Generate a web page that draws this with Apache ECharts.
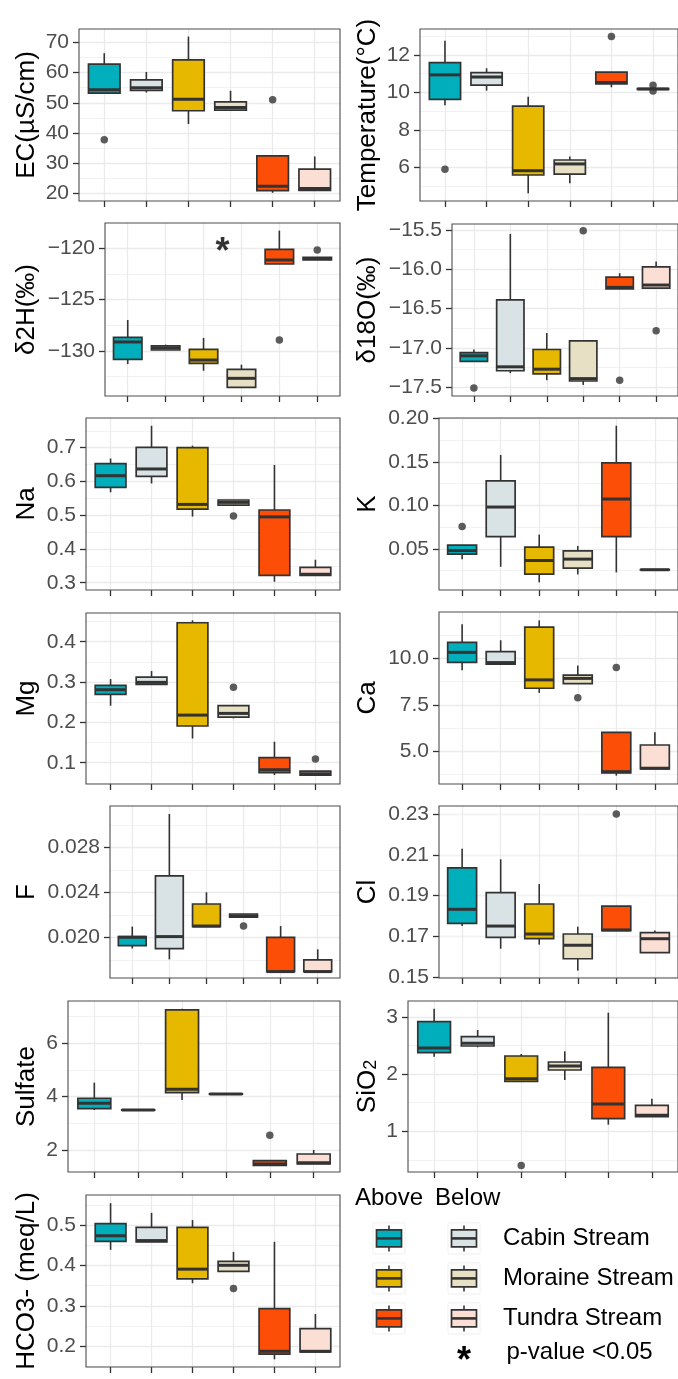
<!DOCTYPE html>
<html><head><meta charset="utf-8">
<script src="https://cdn.jsdelivr.net/npm/echarts@6/dist/echarts.min.js"></script>
<style>html,body{margin:0;padding:0;background:#fff}#c{width:678px;height:1379px}</style>
</head><body><div id="c"></div>
<script>
// ---------------- DATA ----------------
const sites = ['Cabin Above','Cabin Below','Moraine Above','Moraine Below','Tundra Above','Tundra Below'];
// each box: [lower whisker, Q1, median, Q3, upper whisker]
const ecBox = [[53.0,53.2,54.3,62.8,66.4],[53.4,54.1,55.0,57.6,60.2],[43.0,47.4,51.2,64.2,71.9],[47.5,47.6,48.5,50.3,54.0],[20.3,21.0,22.5,32.5,32.5],[21.0,21.1,21.7,28.1,32.3]];
const ecOut = [[0,37.8],[4,51.0]];
const ecTicks = [20,30,40,50,60,70];

const tempBox = [[9.32,9.64,10.94,11.59,12.76],[10.10,10.39,10.82,11.06,11.29],[4.64,5.61,5.84,9.28,9.78],[5.17,5.66,6.20,6.41,6.59],[10.28,10.46,10.53,11.09,11.09],[10.15,10.17,10.19,10.21,10.23]];
const tempOut = [[0,5.91],[4,12.98],[5,10.38],[5,10.08]];
const tempTicks = [6,8,10,12];

const d2hBox = [[-131.27,-130.81,-129.12,-128.67,-126.98],[-129.9,-129.9,-129.7,-129.51,-129.38],[-131.92,-131.2,-130.88,-129.84,-128.73],[-133.54,-133.54,-132.66,-131.79,-131.33],[-121.53,-121.53,-121.14,-120.1,-118.28],[-121.14,-121.14,-121.0,-120.88,-120.88]];
const d2hOut = [[4,-128.93],[5,-120.16]];
const d2hTicks = [-130,-125,-120];
const d2hSignif = [[2.5,-120.43]];

const d18oBox = [[-17.17,-17.17,-17.10,-17.06,-17.02],[-17.32,-17.29,-17.24,-16.39,-15.55],[-17.41,-17.33,-17.27,-17.02,-16.81],[-17.47,-17.42,-17.39,-16.91,-16.91],[-16.25,-16.25,-16.23,-16.10,-16.05],[-16.24,-16.24,-16.20,-15.97,-15.90]];
const d18oOut = [[0,-17.51],[3,-15.51],[4,-17.41],[5,-16.78]];
const d18oTicks = [-17.5,-17.0,-16.5,-16.0,-15.5];

const naBox = [[0.568,0.5825,0.617,0.6526,0.668],[0.594,0.615,0.637,0.701,0.765],[0.496,0.518,0.532,0.700,0.706],[0.530,0.530,0.538,0.545,0.545],[0.303,0.322,0.495,0.5154,0.649],[0.322,0.322,0.325,0.3456,0.368]];
const naOut = [[3,0.4976]];
const naTicks = [0.3,0.4,0.5,0.6,0.7];

const kBox = [[0.0382,0.0439,0.048,0.0542,0.0542],[0.0294,0.0641,0.0981,0.1282,0.158],[0.0115,0.021,0.0366,0.0519,0.0664],[0.0206,0.0279,0.0382,0.0477,0.0534],[0.0229,0.0641,0.1073,0.1489,0.1916],[0.0258,0.0259,0.026,0.0261,0.0262]];
const kOut = [[0,0.0756]];
const kTicks = [0.05,0.10,0.15,0.20];

const mgBox = [[0.2413,0.2694,0.281,0.2917,0.3074],[0.2942,0.2942,0.2992,0.3124,0.3273],[0.160,0.191,0.218,0.447,0.453],[0.210,0.2132,0.2223,0.2413,0.2413],[0.0694,0.0752,0.0826,0.1124,0.152],[0.0694,0.0694,0.0727,0.0793,0.0793]];
const mgOut = [[3,0.2868],[5,0.1091]];
const mgTicks = [0.1,0.2,0.3,0.4];

const caBox = [[9.355,9.785,10.32,10.86,11.83],[9.68,9.68,9.77,10.36,10.97],[8.14,8.39,8.84,11.68,12.04],[8.64,8.64,8.92,9.10,9.61],[3.69,3.835,3.905,6.02,6.02],[4.05,4.05,4.09,5.34,6.02]];
const caOut = [[3,7.885],[4,9.50]];
const caTicks = [5.0,7.5,10.0];

const fBox = [[0.0190,0.01925,0.0200,0.02006,0.02095],[0.01804,0.0190,0.02006,0.02545,0.03096],[0.02095,0.02095,0.0210,0.02296,0.0240],[0.02178,0.02178,0.0219,0.02207,0.02207],[0.01695,0.01695,0.01695,0.0200,0.0210],[0.01695,0.01695,0.01695,0.0180,0.01893]];
const fOut = [[3,0.0210]];
const fTicks = [0.020,0.024,0.028];

const clBox = [[0.1751,0.1764,0.1833,0.2036,0.213],[0.164,0.1696,0.1751,0.1915,0.2078],[0.166,0.1689,0.1712,0.1859,0.1957],[0.1533,0.1591,0.1657,0.1712,0.1748],[0.1729,0.1729,0.1732,0.1849,0.1849],[0.1621,0.1621,0.1689,0.1719,0.1729]];
const clOut = [[4,0.23]];
const clTicks = [0.15,0.17,0.19,0.21,0.23];

const so4Box = [[3.50,3.55,3.75,3.94,4.525],[3.49,3.495,3.50,3.505,3.51],[3.875,4.15,4.275,7.25,7.30],[4.09,4.095,4.10,4.105,4.11],[1.425,1.425,1.475,1.60,1.60],[1.475,1.475,1.525,1.85,2.00]];
const so4Out = [[4,2.55]];
const so4Ticks = [2,4,6];

const sio2Box = [[2.306,2.376,2.458,2.918,3.146],[2.47,2.493,2.539,2.656,2.773],[1.875,1.875,1.921,2.318,2.353],[1.898,2.073,2.143,2.213,2.40],[1.117,1.222,1.478,2.12,3.076],[1.257,1.257,1.28,1.455,1.571]];
const sio2Out = [[2,0.40]];
const sio2Ticks = [1,2,3];

const hco3Box = [[0.439,0.46,0.474,0.504,0.555],[0.459,0.459,0.462,0.495,0.531],[0.356,0.367,0.391,0.495,0.513],[0.3857,0.3857,0.4006,0.4105,0.434],[0.167,0.18,0.1868,0.2929,0.459],[0.1852,0.1852,0.1868,0.2432,0.2796]];
const hco3Out = [[3,0.3426]];
const hco3Ticks = [0.2,0.3,0.4,0.5];

const streams = ['Cabin Stream','Moraine Stream','Tundra Stream'];

// ---------------- STYLE / LAYOUT ----------------
const FONT = "'Liberation Sans', Arial, Helvetica, sans-serif";
const FILLS = ['#00AFBB','#D9E3E5','#E7B800','#E7E0C4','#FC4E07','#FCDFD4'];
const EDGE = '#333333';

const panels = [
  {box:ecBox, out:ecOut, ticks:ecTicks, title:'EC(µS/cm)', dec:0, range:[17.59,74.39], step:10, rect:[79,29,261,172], col:0},
  {box:d2hBox, out:d2hOut, ticks:d2hTicks, title:'δ2H(‰)', dec:0, range:[-134.38,-117.54], step:5, rect:[105,223,235,173], col:0, signif:d2hSignif},
  {box:naBox, out:naOut, ticks:naTicks, title:'Na', dec:1, range:[0.2784,0.788], step:0.1, rect:[86,418,254,172], col:0},
  {box:mgBox, out:mgOut, ticks:mgTicks, title:'Mg', dec:1, range:[0.0472,0.4712], step:0.1, rect:[86,613,254,171], col:0},
  {box:fBox, out:fOut, ticks:fTicks, title:'F', dec:3, range:[0.01638,0.03167], step:0.004, rect:[110,806,230,172], col:0},
  {box:so4Box, out:so4Out, ticks:so4Ticks, title:'Sulfate', dec:0, range:[1.175,7.586], step:2, rect:[68,1001,272,171], col:0},
  {box:hco3Box, out:hco3Out, ticks:hco3Ticks, title:'HCO3- (meq/L)', dec:1, range:[0.1478,0.5753], step:0.1, rect:[86,1195,254,172], col:0},
  {box:tempBox, out:tempOut, ticks:tempTicks, title:'Temperature(°C)', dec:0, range:[4.227,13.38], step:2, rect:[420,29,260,172], col:1},
  {box:d18oBox, out:d18oOut, ticks:d18oTicks, title:'δ18O(‰)', dec:1, range:[-17.611,-15.424], step:0.5, rect:[452,224,228,172], col:1},
  {box:kBox, out:kOut, ticks:kTicks, title:'K', dec:2, range:[0.0027,0.2005], step:0.05, rect:[439,418,241,172], col:1},
  {box:caBox, out:caOut, ticks:caTicks, title:'Ca', dec:1, range:[3.242,12.49], step:2.5, rect:[439,612,241,172], col:1},
  {box:clBox, out:clOut, ticks:clTicks, title:'Cl', dec:2, range:[0.14966,0.2339], step:0.02, rect:[439,806,241,172], col:1},
  {box:sio2Box, out:sio2Out, ticks:sio2Ticks, title:'SiO{sub|2}', dec:0, range:[0.288,3.28], step:1, rect:[408,1001,272,171], col:1}
];

function fmt(v, dec) {
  const s = Math.abs(v).toFixed(dec);
  return (v < -1e-12 ? '\u2212' : '') + s;
}

function renderBox(params, api) {
  const x = api.value(0);
  const p = (i) => api.coord([x, api.value(i)]);
  const lo = p(1), q1 = p(2), md = p(3), q3 = p(4), hi = p(5);
  const w = api.size([0.75, 0])[0];
  const cx = lo[0];
  const fill = FILLS[x];
  return {type:'group', children:[
    {type:'line', shape:{x1:cx,y1:hi[1],x2:cx,y2:q3[1]}, style:{stroke:EDGE,lineWidth:1.6}},
    {type:'line', shape:{x1:cx,y1:q1[1],x2:cx,y2:lo[1]}, style:{stroke:EDGE,lineWidth:1.6}},
    {type:'rect', shape:{x:cx-w/2,y:q3[1],width:w,height:Math.max(q1[1]-q3[1],0.01)}, style:{fill:fill,stroke:EDGE,lineWidth:1.7}},
    {type:'line', shape:{x1:cx-w/2,y1:md[1],x2:cx+w/2,y2:md[1]}, style:{stroke:EDGE,lineWidth:3.0}}
  ]};
}

const catIdx = sites.map((_, i) => i);
const grid = [], xAxis = [], yAxis = [], series = [], graphic = [];

panels.forEach((pn, gi) => {
  const [l, t, w, h] = pn.rect;
  grid.push({left:l, top:t, width:w, height:h, show:true, backgroundColor:'transparent',
             borderColor:'#4D4D4D', borderWidth:1.1, z:5, containLabel:false});
  xAxis.push({type:'value', gridIndex:gi, position:'bottom', min:-0.6, max:sites.length - 0.4, minInterval:1, maxInterval:1,
    axisLine:{show:false, onZero:false}, axisLabel:{show:false},
    axisTick:{show:true, length:6, customValues:catIdx, lineStyle:{color:EDGE, width:1.3}},
    splitLine:{show:true, lineStyle:{color:'#EBEBEB', width:1.3}}});
  yAxis.push({type:'value', gridIndex:gi, position:'left', min:pn.range[0], max:pn.range[1],
    minInterval:pn.step, maxInterval:pn.step,
    axisLine:{show:false, onZero:false},
    axisTick:{show:true, length:6, customValues:pn.ticks, lineStyle:{color:EDGE, width:1.3}},
    axisLabel:{show:true, customValues:pn.ticks, margin:10, color:'#4D4D4D', fontSize:21, fontFamily:FONT,
      formatter:(v) => fmt(v, pn.dec)},
    splitLine:{show:true, lineStyle:{color:'#EBEBEB', width:1.3}},
    minorTick:{show:false, splitNumber:2},
    minorSplitLine:{show:true, lineStyle:{color:'#F2F2F2', width:1}}});
  series.push({type:'custom', xAxisIndex:gi, yAxisIndex:gi, renderItem:renderBox,
    dimensions:['x','lo','q1','med','q3','hi'], encode:{x:0, y:[1,2,3,4,5]},
    data: pn.box.map((b, i) => [i].concat(b)), silent:true, z:2});
  series.push({type:'scatter', xAxisIndex:gi, yAxisIndex:gi, data:pn.out, symbol:'circle', symbolSize:7.5,
    itemStyle:{color:EDGE}, silent:true, z:3});
  if (pn.signif) {
    series.push({type:'scatter', xAxisIndex:gi, yAxisIndex:gi, data:pn.signif, symbolSize:1,
      itemStyle:{color:'transparent'}, silent:true, z:4,
      label:{show:true, position:'inside', formatter:'*', color:'#000', fontSize:36, fontWeight:'bold', fontFamily:FONT}});
  }
  // axis title
  graphic.push({type:'text', x: pn.col === 0 ? 26.5 : 367.5, y: t + h / 2, rotation: Math.PI / 2, silent:true,
    style:{text:pn.title, fill:'#000', fontSize:26, fontFamily:FONT, align:'center', verticalAlign:'middle',
      rich:{sub:{fontSize:18, fontFamily:FONT, fill:'#000', lineHeight:12, verticalAlign:'bottom'}}}});
});

// ---------------- LEGEND ----------------
graphic.push({type:'text', x:355, y:1198.7, silent:true, style:{text:'Above', fill:'#000', fontSize:24, fontFamily:FONT, align:'left', verticalAlign:'middle'}});
graphic.push({type:'text', x:435, y:1198.7, silent:true, style:{text:'Below', fill:'#000', fontSize:24, fontFamily:FONT, align:'left', verticalAlign:'middle'}});
function legendKey(cx, cy, fill) {
  return {type:'group', silent:true, children:[
    {type:'rect', shape:{x:cx-16, y:cy-15.5, width:32, height:31}, style:{fill:'#fff', stroke:'#F0F0F0', lineWidth:1}},
    {type:'line', shape:{x1:cx, y1:cy-13, x2:cx, y2:cy-8.5}, style:{stroke:EDGE, lineWidth:1.6}},
    {type:'line', shape:{x1:cx, y1:cy+8.5, x2:cx, y2:cy+13}, style:{stroke:EDGE, lineWidth:1.6}},
    {type:'rect', shape:{x:cx-12.5, y:cy-8.5, width:25, height:17}, style:{fill:fill, stroke:EDGE, lineWidth:1.7}},
    {type:'line', shape:{x1:cx-12.5, y1:cy, x2:cx+12.5, y2:cy}, style:{stroke:EDGE, lineWidth:2.6}}
  ]};
}
const rowY = [1238.4, 1278.4, 1318.4];
streams.forEach((s, i) => {
  graphic.push(legendKey(389, rowY[i], FILLS[2*i]));
  graphic.push(legendKey(464, rowY[i], FILLS[2*i+1]));
  graphic.push({type:'text', x:503, y:rowY[i], silent:true, style:{text:s, fill:'#000', fontSize:24, fontFamily:FONT, align:'left', verticalAlign:'middle'}});
});
graphic.push({type:'text', x:464, y:1362, silent:true, style:{text:'*', fill:'#000', fontSize:36, fontWeight:'bold', fontFamily:FONT, align:'center', verticalAlign:'middle'}});
graphic.push({type:'text', x:506.5, y:1352.4, silent:true, style:{text:'p-value <0.05', fill:'#000', fontSize:24, fontFamily:FONT, align:'left', verticalAlign:'middle'}});

const chart = echarts.init(document.getElementById('c'), null, {renderer:'canvas'});
chart.setOption({animation:false, backgroundColor:'#fff', grid, xAxis, yAxis, series, graphic});
</script></body></html>
